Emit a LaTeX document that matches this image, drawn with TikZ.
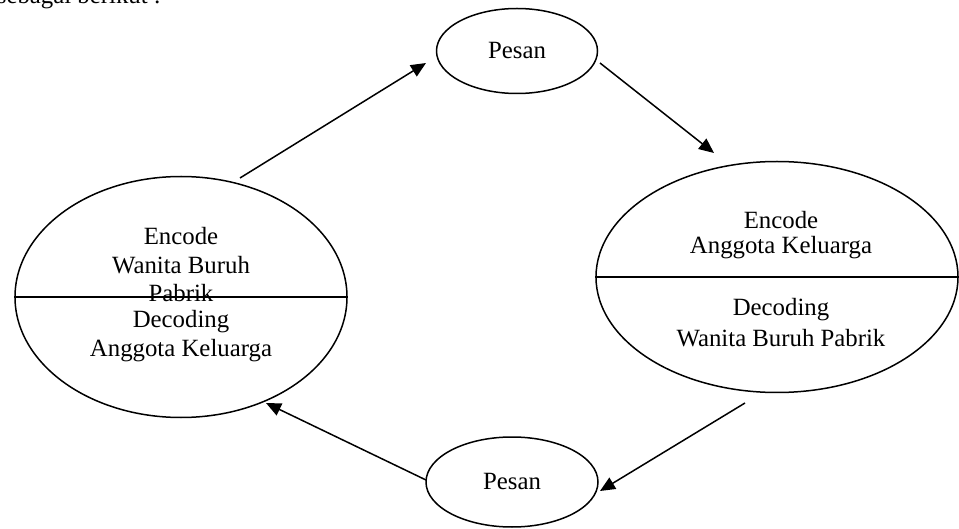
\documentclass[tikz,border=0pt]{standalone}
\usepackage{fontspec}
\setmainfont{Liberation Serif}
\usetikzlibrary{arrows.meta,shapes.geometric}
\begin{document}
\begin{tikzpicture}[x=1pt,y=-1pt,
  oval/.style={draw,ellipse,line width=1.5pt,inner sep=0pt},
  lbl/.style={font=\fontsize{24.8}{29}\selectfont,align=center},
  conn/.style={line width=1.5pt,-{Triangle[length=15pt,width=13pt]}},
  divider/.style={line width=1.5pt}]
\useasboundingbox (0,0) rectangle (959,529);
\clip (0,0) rectangle (959,529);
\fill[white] (0,0) rectangle (959,529);
% cropped heading text
\node[lbl,anchor=base east,inner sep=0pt] (head) at (161,4) {sebagai berikut :};
% ellipses
\node[oval,minimum width=161pt,minimum height=85pt] (pesanTop) at (517,51) {};
\node[lbl] at (pesanTop.center) {Pesan};
\node[oval,minimum width=172pt,minimum height=90pt] (pesanBot) at (512,482) {};
\node[lbl] at (pesanBot.center) {Pesan};
\node[oval,minimum width=332pt,minimum height=241pt] (left) at (181,297) {};
\node[oval,minimum width=362pt,minimum height=231pt] (right) at (777,277) {};
\draw[divider] (left.west) -- (left.east);
\draw[divider] (right.west) -- (right.east);
% texts
\node[lbl] (lEnc) at (181,236) {Encode};
\node[lbl] (lWan) at (181,265) {Wanita Buruh};
\node[lbl] (lPab) at (181,293) {Pabrik};
\node[lbl] (lDec) at (181,322) {Decoding};
\node[lbl] (lAng) at (181,351) {Anggota Keluarga};
\node[lbl] (rEnc) at (781,220) {Encode};
\node[lbl] (rAng) at (781,248) {Anggota Keluarga};
\node[lbl] (rDec) at (781,310) {Decoding};
\node[lbl] (rWan) at (781,338) {Wanita Buruh Pabrik};
% connector end points
\coordinate (a1) at (240,178);
\coordinate (a2) at (426,63);
\coordinate (b1) at (600,63);
\coordinate (b2) at (714,153);
\coordinate (c1) at (745,403);
\coordinate (c2) at (600,491);
\coordinate (d1) at (426,480);
\coordinate (d2) at (266,403);
\draw[conn] (a1) -- (a2);
\draw[conn] (b1) -- (b2);
\draw[conn] (c1) -- (c2);
\draw[conn] (d1) -- (d2);
\end{tikzpicture}
\end{document}
